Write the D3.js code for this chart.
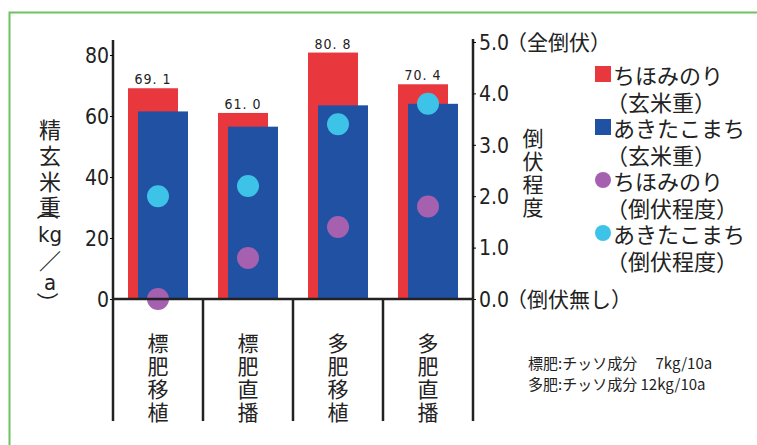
<!DOCTYPE html>
<html>
<head>
<meta charset="utf-8">
<script src="https://cdn.jsdelivr.net/npm/d3@7"></script>
<style>
  body { margin: 0; background: #fff; }
  svg { display: block; }
  .jp { font-family: "Noto Sans CJK JP", sans-serif; fill: #222; }
  .num { font-family: "Liberation Sans Narrow", "DejaVu Sans Condensed", "Liberation Sans", sans-serif; fill: #222; }
</style>
</head>
<body>
<svg id="chart"></svg>
<script>
// データ
const categories = ["標肥移植", "標肥直播", "多肥移植", "多肥直播"];
const chihoYield = [69.1, 61.0, 80.8, 70.4];   // ちほみのり 玄米重
const akitaYield = [61.5, 56.5, 63.5, 64.0];   // あきたこまち 玄米重
const chihoLodging = [0.0, 0.8, 1.4, 1.8];     // ちほみのり 倒伏程度
const akitaLodging = [2.0, 2.2, 3.4, 3.8];     // あきたこまち 倒伏程度
const leftTicks = [0, 20, 40, 60, 80];
const rightTicks = [0, 1, 2, 3, 4, 5];
const rightTickNotes = {0: "（倒伏無し）", 5: "（全倒伏）"};
const legendItems = [
  {name: "ちほみのり", sub: "（玄米重）", shape: "rect", color: "#e8383d"},
  {name: "あきたこまち", sub: "（玄米重）", shape: "rect", color: "#2151a3"},
  {name: "ちほみのり", sub: "（倒伏程度）", shape: "circle", color: "#a660b0"},
  {name: "あきたこまち", sub: "（倒伏程度）", shape: "circle", color: "#3ec3e8"}
];
const notes = ["標肥:チッソ成分　 7kg/10a", "多肥:チッソ成分 12kg/10a"];

const width = 757, height = 445;
const svg = d3.select("#chart").attr("width", width).attr("height", height);

// 緑の枠
svg.append("path")
  .attr("d", "M9.5,445 L9.5,12.5 L757,12.5")
  .attr("fill", "none").attr("stroke", "#6cc35f").attr("stroke-width", 2);

const x0 = 113, x1 = 473, y0 = 299;
const x = d3.scaleBand().domain(categories).range([x0, x1]);
const yL = d3.scaleLinear().domain([0, 80]).range([y0, 55]);
const yR = d3.scaleLinear().domain([0, 5]).range([y0, 42]);

// 棒
const g = svg.append("g");
g.selectAll("rect.chiho").data(categories).join("rect")
  .attr("x", d => x(d) + 15).attr("width", 50)
  .attr("y", (d, i) => yL(chihoYield[i]))
  .attr("height", (d, i) => y0 - yL(chihoYield[i]))
  .attr("fill", "#e8383d");
g.selectAll("rect.akita").data(categories).join("rect")
  .attr("x", d => x(d) + 25).attr("width", 50)
  .attr("y", (d, i) => yL(akitaYield[i]))
  .attr("height", (d, i) => y0 - yL(akitaYield[i]))
  .attr("fill", "#2151a3");

// 数値ラベル
g.selectAll("text.val").data(categories).join("text")
  .attr("class", "num")
  .attr("x", d => x(d) + 40)
  .attr("y", (d, i) => yL(chihoYield[i]) - 4)
  .attr("text-anchor", "middle")
  .attr("font-size", 14)
  .attr("letter-spacing", 1)
  .text((d, i) => chihoYield[i].toFixed(1).replace(".", ". "));

// 点
g.selectAll("circle.cl").data(categories).join("circle")
  .attr("cx", d => x(d) + x.bandwidth() / 2)
  .attr("cy", (d, i) => yR(chihoLodging[i]))
  .attr("r", 11).attr("fill", "#a660b0");
g.selectAll("circle.al").data(categories).join("circle")
  .attr("cx", d => x(d) + x.bandwidth() / 2)
  .attr("cy", (d, i) => yR(akitaLodging[i]))
  .attr("r", 11).attr("fill", "#3ec3e8");

// 軸
const axL = svg.append("g").attr("transform", `translate(${x0},0)`)
  .call(d3.axisLeft(yL).tickValues(leftTicks).tickSize(3).tickFormat(d3.format("d")));
axL.select(".domain").attr("d", `M0,${y0}V40`).attr("stroke", "#222").attr("stroke-width", 2.5);
axL.selectAll("text").attr("class", "num").attr("font-size", 21).attr("x", -4).attr("dy", "0.35em");

const axR = svg.append("g").attr("transform", `translate(${x1},0)`)
  .call(d3.axisRight(yR).tickValues(rightTicks).tickSize(3).tickFormat(d3.format(".1f")));
axR.select(".domain").attr("d", `M0,${y0}V39`).attr("stroke", "#222").attr("stroke-width", 2.5);
axR.selectAll("text").attr("class", "num").attr("font-size", 21).attr("x", 6).attr("dy", "0.35em");
axR.selectAll(".tick").filter(d => rightTickNotes[d]).append("text")
  .attr("class", "jp").attr("x", 33).attr("dy", "0.35em").attr("font-size", 21)
  .attr("fill", "#222").text(d => rightTickNotes[d]);

// 横軸と区切り
svg.append("line").attr("x1", x0).attr("x2", x1).attr("y1", y0).attr("y2", y0)
  .attr("stroke", "#222").attr("stroke-width", 2.5);
svg.selectAll("line.sep").data(categories.concat(["end"])).join("line")
  .attr("x1", (d, i) => x0 + i * x.bandwidth()).attr("x2", (d, i) => x0 + i * x.bandwidth())
  .attr("y1", y0).attr("y2", 421)
  .attr("stroke", "#222").attr("stroke-width", 2.5);

// カテゴリラベル（縦書き）
categories.forEach(c => {
  svg.append("g").selectAll("text").data(c.split("")).join("text")
    .attr("class", "jp")
    .attr("x", x(c) + x.bandwidth() / 2)
    .attr("y", (d, i) => 342 + i * 23)
    .attr("text-anchor", "middle").attr("dominant-baseline", "central")
    .attr("font-size", 21).text(d => d);
});

// 左軸タイトル（縦書き、括弧は回転）
const leftTitle = [
  {t: "精", y: 128}, {t: "玄", y: 154}, {t: "米", y: 180}, {t: "重", y: 205},
  {t: "（", y: 209, rot: true}, {t: "kg", y: 234}, {t: "／", y: 259},
  {t: "a", y: 282}, {t: "）", y: 303, rot: true}
];
svg.append("g").selectAll("text").data(leftTitle).join("text")
  .attr("class", d => /[a-z]/.test(d.t) ? "num" : "jp")
  .attr("transform", d => `translate(50,${d.y})` + (d.rot ? " rotate(90)" : ""))
  .attr("text-anchor", "middle").attr("dominant-baseline", "central")
  .attr("font-size", 22).text(d => d.t);

// 右軸タイトル
svg.append("g").selectAll("text").data("倒伏程度".split("")).join("text")
  .attr("class", "jp").attr("x", 533).attr("y", (d, i) => 137 + i * 23)
  .attr("text-anchor", "middle").attr("dominant-baseline", "central")
  .attr("font-size", 21).text(d => d);

// 凡例
const legY = [74, 127, 180, 233];
const leg = svg.append("g").selectAll("g").data(legendItems).join("g")
  .attr("transform", (d, i) => `translate(0,${legY[i]})`);
leg.filter(d => d.shape === "rect").append("rect")
  .attr("x", 595).attr("y", -8).attr("width", 16).attr("height", 16).attr("fill", d => d.color);
leg.filter(d => d.shape === "circle").append("circle")
  .attr("cx", 603).attr("cy", 0).attr("r", 8).attr("fill", d => d.color);
leg.append("text").attr("class", "jp").attr("x", 613).attr("dominant-baseline", "central")
  .attr("font-size", 22).text(d => d.name);
leg.append("text").attr("class", "jp").attr("x", 606).attr("y", 27).attr("dominant-baseline", "central")
  .attr("font-size", 22).text(d => d.sub);

// 注記
svg.append("g").selectAll("text").data(notes).join("text")
  .attr("class", "jp").attr("x", 528).attr("y", (d, i) => 362 + i * 21)
  .attr("dominant-baseline", "central").attr("font-size", 15).text(d => d);
</script>
</body>
</html>
